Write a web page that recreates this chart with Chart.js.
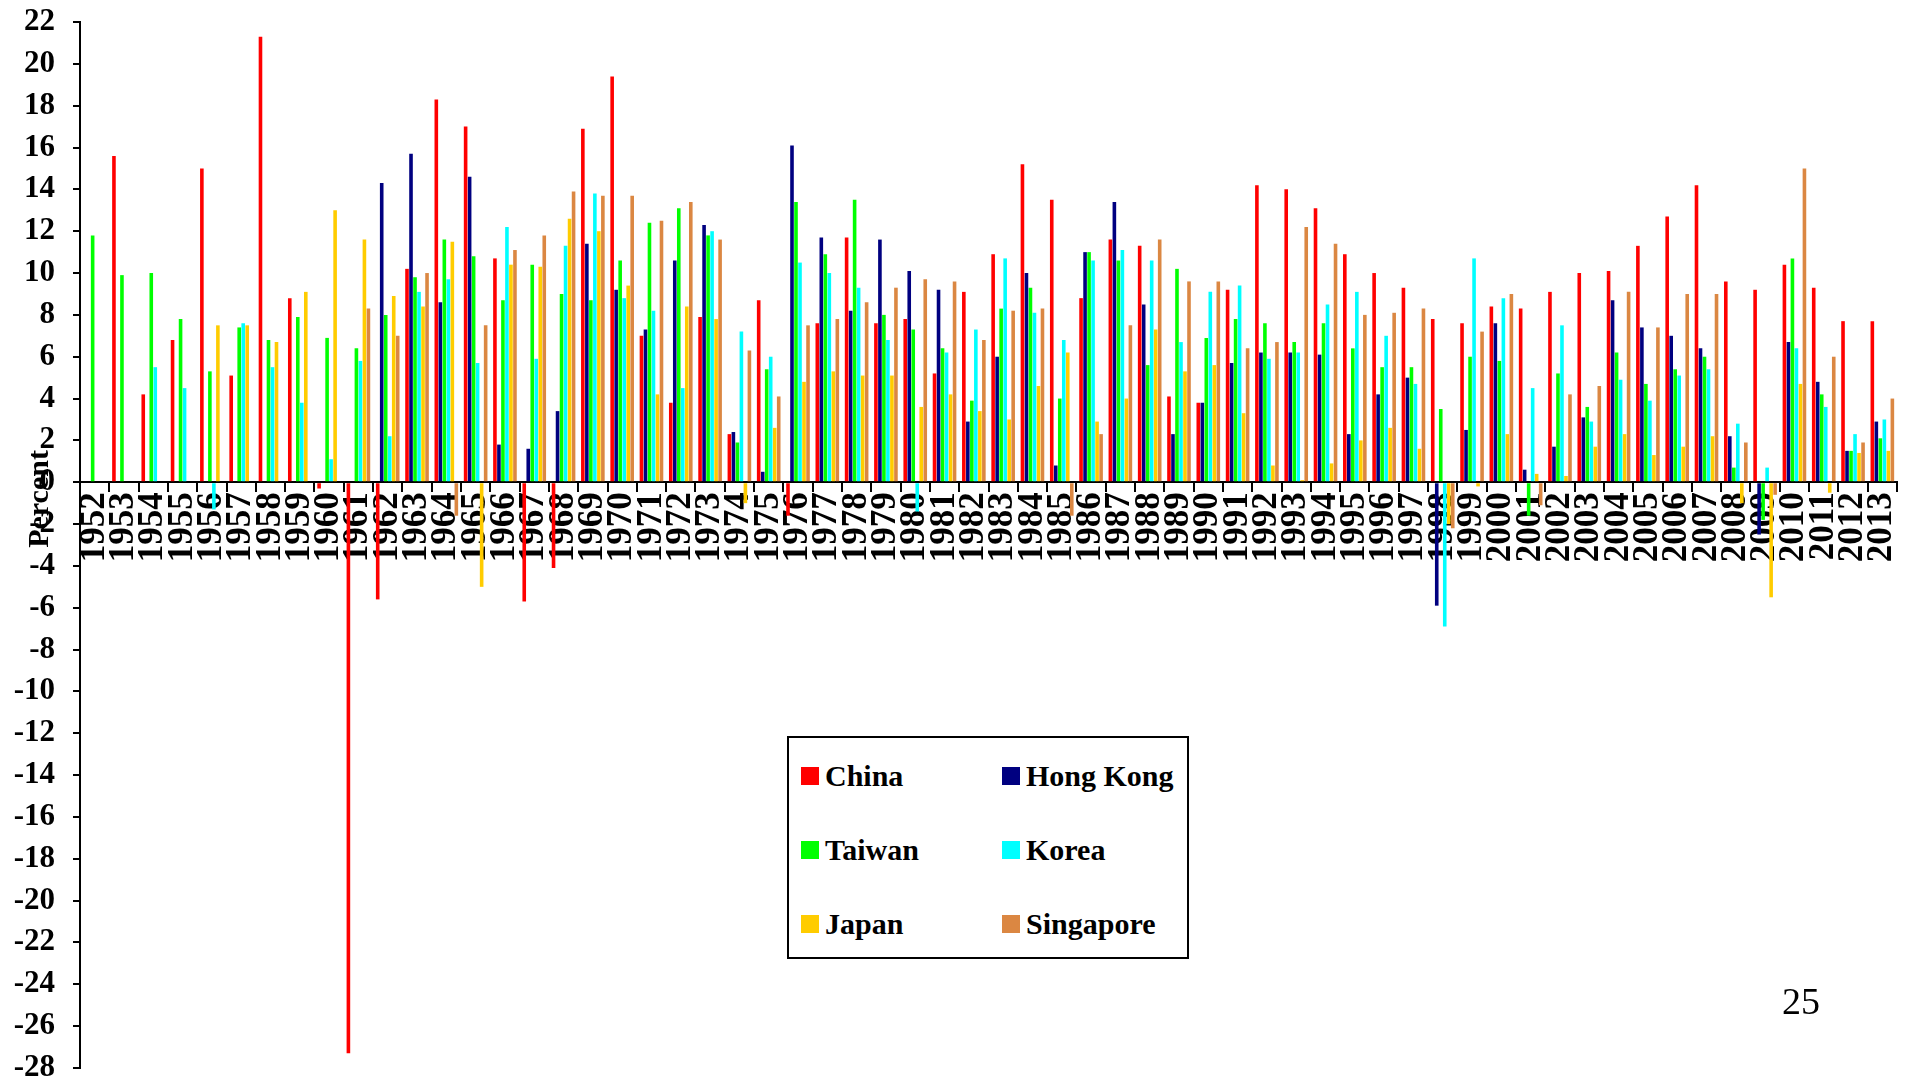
<!DOCTYPE html>
<html>
<head>
<meta charset="utf-8">
<script src="https://cdn.jsdelivr.net/npm/chart.js@4.4.1/dist/chart.umd.min.js"></script>
<style>
  body { margin: 0; background: #fff; }
  #wrap { position: relative; width: 1905px; height: 1078px; }
  #legend {
    position: absolute; left: 787px; top: 736px; width: 398px; height: 219px;
    border: 2px solid #000; background: #fff;
    font-family: "Liberation Serif", "Times New Roman", serif; font-weight: bold; font-size: 30px;
  }
  .item { position: absolute; display: flex; align-items: center; height: 36px; }
  .sw { width: 18px; height: 18px; margin-right: 6px; }
</style>
</head>
<body>
<div id="wrap">
  <canvas id="growthChart"></canvas>
  <div id="legend"></div>
</div>
<script>
const years = [];
for (let y = 1952; y <= 2013; y++) years.push(String(y));

// real GDP growth, percent, 1952-2013 (null = no data)
const china = [null, 15.6, 4.2, 6.8, 15.0, 5.1, 21.3, 8.8, -0.3, -27.3,
  -5.6, 10.2, 18.3, 17.0, 10.7, -5.7, -4.1, 16.9, 19.4, 7.0,
  3.8, 7.9, 2.3, 8.7, -1.6, 7.6, 11.7, 7.6, 7.8, 5.2,
  9.1, 10.9, 15.2, 13.5, 8.8, 11.6, 11.3, 4.1, 3.8, 9.2,
  14.2, 14.0, 13.1, 10.9, 10.0, 9.3, 7.8, 7.6, 8.4, 8.3,
  9.1, 10.0, 10.1, 11.3, 12.7, 14.2, 9.6, 9.2, 10.4, 9.3,
  7.7, 7.7];
const hongKong = [null, null, null, null, null, null, null, null, null, null,
  14.3, 15.7, 8.6, 14.6, 1.8, 1.6, 3.4, 11.4, 9.2, 7.3,
  10.6, 12.3, 2.4, 0.5, 16.1, 11.7, 8.2, 11.6, 10.1, 9.2,
  2.9, 6.0, 10.0, 0.8, 11.0, 13.4, 8.5, 2.3, 3.8, 5.7,
  6.2, 6.2, 6.1, 2.3, 4.2, 5.0, -5.9, 2.5, 7.6, 0.6,
  1.7, 3.1, 8.7, 7.4, 7.0, 6.4, 2.2, -2.5, 6.7, 4.8,
  1.5, 2.9];
const taiwan = [11.8, 9.9, 10.0, 7.8, 5.3, 7.4, 6.8, 7.9, 6.9, 6.4,
  8.0, 9.8, 11.6, 10.8, 8.7, 10.4, 9.0, 8.7, 10.6, 12.4,
  13.1, 11.8, 1.9, 5.4, 13.4, 10.9, 13.5, 8.0, 7.3, 6.4,
  3.9, 8.3, 9.3, 4.0, 11.0, 10.6, 5.6, 10.2, 6.9, 7.8,
  7.6, 6.7, 7.6, 6.4, 5.5, 5.5, 3.5, 6.0, 5.8, -1.6,
  5.2, 3.6, 6.2, 4.7, 5.4, 6.0, 0.7, -1.8, 10.7, 4.2,
  1.5, 2.1];
const korea = [null, null, 5.5, 4.5, -1.3, 7.6, 5.5, 3.8, 1.1, 5.8,
  2.2, 9.1, 9.7, 5.7, 12.2, 5.9, 11.3, 13.8, 8.8, 8.2,
  4.5, 12.0, 7.2, 6.0, 10.5, 10.0, 9.3, 6.8, -1.4, 6.2,
  7.3, 10.7, 8.1, 6.8, 10.6, 11.1, 10.6, 6.7, 9.1, 9.4,
  5.9, 6.2, 8.5, 9.1, 7.0, 4.7, -6.9, 10.7, 8.8, 4.5,
  7.5, 2.9, 4.9, 3.9, 5.1, 5.4, 2.8, 0.7, 6.4, 3.6,
  2.3, 3.0];
const japan = [null, null, null, null, 7.5, 7.5, 6.7, 9.1, 13.0, 11.6,
  8.9, 8.4, 11.5, -5.0, 10.4, 10.3, 12.6, 12.0, 9.4, 4.2,
  8.4, 7.8, -1.0, 2.6, 4.8, 5.3, 5.1, 5.1, 3.6, 4.2,
  3.4, 3.0, 4.6, 6.2, 2.9, 4.0, 7.3, 5.3, 5.6, 3.3,
  0.8, 0.1, 0.9, 2.0, 2.6, 1.6, -2.0, -0.2, 2.3, 0.4,
  0.3, 1.7, 2.3, 1.3, 1.7, 2.2, -1.0, -5.5, 4.7, -0.5,
  1.4, 1.5];
const singapore = [null, null, null, null, null, null, null, null, null, 8.3,
  7.0, 10.0, -1.6, 7.5, 11.1, 11.8, 13.9, 13.7, 13.7, 12.5,
  13.4, 11.6, 6.3, 4.1, 7.5, 7.8, 8.6, 9.3, 9.7, 9.6,
  6.8, 8.2, 8.3, -1.6, 2.3, 7.5, 11.6, 9.6, 9.6, 6.4,
  6.7, 12.2, 11.4, 8.0, 8.1, 8.3, -2.2, 7.2, 9.0, -1.1,
  4.2, 4.6, 9.1, 7.4, 9.0, 9.0, 1.9, -0.6, 15.0, 6.0,
  1.9, 4.0];

const seriesNames = ['China', 'Hong Kong', 'Taiwan', 'Korea', 'Japan', 'Singapore'];
const seriesColors = ['#ff0000', '#000080', '#00ff00', '#00ffff', '#ffcc00', '#db8742'];
const seriesValues = [china, hongKong, taiwan, korea, japan, singapore];

const serif = '"Liberation Serif", "Times New Roman", serif';

const extraText = {
  id: 'extraText',
  afterDraw(chart) {
    const ctx = chart.ctx;
    const yScale = chart.scales.y;
    ctx.save();
    ctx.fillStyle = '#000';
    ctx.font = 'bold 30px ' + serif;
    ctx.textAlign = 'center';
    ctx.textBaseline = 'middle';
    ctx.translate(40, yScale.getPixelForValue(-0.8));
    ctx.rotate(-Math.PI / 2);
    ctx.fillText('Percent', 0, 0);
    ctx.restore();

    ctx.save();
    ctx.fillStyle = '#000';
    ctx.font = '38px ' + serif;
    ctx.textAlign = 'center';
    ctx.textBaseline = 'middle';
    ctx.fillText('25', chart.chartArea.right - 96, chart.chartArea.bottom - 64);
    ctx.restore();
  }
};

const ctx = document.getElementById('growthChart').getContext('2d');
const chart = new Chart(ctx, {
  type: 'bar',
  data: {
    labels: years,
    datasets: seriesNames.map((name, i) => ({
      label: name,
      data: seriesValues[i],
      backgroundColor: seriesColors[i],
      borderWidth: 0,
      barPercentage: 0.9,
      categoryPercentage: 0.82
    }))
  },
  options: {
    responsive: true,
    maintainAspectRatio: false,
    animation: false,
    layout: { padding: { top: 22, bottom: 10, left: 0, right: 8 } },
    plugins: {
      legend: { display: false },
      tooltip: { enabled: false }
    },
    scales: {
      x: {
        position: { y: 0 },
        afterFit(scale) {
          // rotated labels would otherwise eat into the right edge
          scale.paddingLeft = 0;
          scale.paddingRight = 0;
        },
        grid: { drawOnChartArea: false, color: '#000', lineWidth: 2, tickLength: 9, offset: true },
        border: { color: '#000', width: 2 },
        ticks: {
          autoSkip: false,
          minRotation: 90,
          maxRotation: 90,
          padding: 1,
          color: '#000',
          font: { family: serif, weight: 'bold', size: 35 }
        }
      },
      y: {
        min: -28,
        max: 22,
        afterFit(scale) {
          scale.width = 80;
          scale.paddingTop = 0;
          scale.paddingBottom = 0;
        },
        grid: { drawOnChartArea: false, color: '#000', lineWidth: 2, tickLength: 7 },
        border: { color: '#000', width: 2 },
        ticks: {
          stepSize: 2,
          padding: 18,
          color: '#000',
          font: { family: serif, weight: 'bold', size: 31 }
        }
      }
    }
  },
  plugins: [extraText]
});

// legend box, two columns, built from the chart datasets
const legendEl = document.getElementById('legend');
chart.data.datasets.forEach((ds, i) => {
  const item = document.createElement('div');
  item.className = 'item';
  item.style.left = (i % 2 === 0 ? 12 : 213) + 'px';
  item.style.top = (20 + Math.floor(i / 2) * 74) + 'px';
  const sw = document.createElement('span');
  sw.className = 'sw';
  sw.style.background = ds.backgroundColor;
  const txt = document.createElement('span');
  txt.textContent = ds.label;
  item.appendChild(sw);
  item.appendChild(txt);
  legendEl.appendChild(item);
});
</script>
</body>
</html>
